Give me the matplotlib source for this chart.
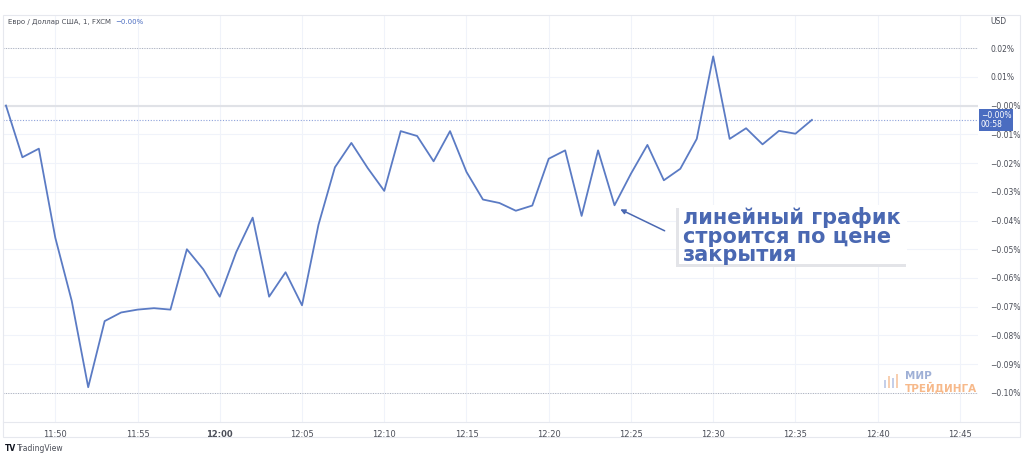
import numpy as np
import matplotlib.pyplot as plt
from matplotlib.patches import Rectangle

# close price change, % (one point per minute from 11:47)
start_time = "11:47"
closes = [0.000, -0.018, -0.015, -0.046, -0.068, -0.098, -0.075, -0.072, -0.071, -0.0705,
          -0.071, -0.050, -0.057, -0.0665, -0.051, -0.039, -0.0665, -0.058, -0.0695, -0.0415,
          -0.0215, -0.013, -0.0218, -0.0297, -0.0089, -0.0106, -0.0194, -0.0089, -0.0231, -0.0327,
          -0.0339, -0.0366, -0.0348, -0.0185, -0.0156, -0.0384, -0.0156, -0.0347, -0.0237, -0.0137,
          -0.026, -0.022, -0.0116, 0.0171, -0.0116, -0.0079, -0.0135, -0.0088, -0.0098, -0.005]
time_labels = ["11:50", "11:55", "12:00", "12:05", "12:10", "12:15",
               "12:20", "12:25", "12:30", "12:35", "12:40", "12:45"]
price_ticks = [0.02, 0.01, 0.0, -0.01, -0.02, -0.03, -0.04, -0.05, -0.06, -0.07, -0.08, -0.09, -0.10]
price_labels = ["0.02%", "0.01%", "\u22120.00%", "\u22120.01%", "\u22120.02%", "\u22120.03%", "\u22120.04%",
                "\u22120.05%", "\u22120.06%", "\u22120.07%", "\u22120.08%", "\u22120.09%", "\u22120.10%"]
range_lines = [0.02, -0.10]
last_label = "\u22120.00%"
countdown = "00:58"
title = "Евро / Доллар США, 1, FXCM"
note = "линейный график\nстроится по цене\nзакрытия"

def minutes(s):
    h, m = s.split(":")
    return int(h) * 60 + int(m)

t0 = minutes(start_time)
tick_pos = [minutes(s) - t0 for s in time_labels]
x = np.arange(len(closes))

line_col = "#5b7bc4"
grid_col = "#f0f3fa"

W, H = 1024, 473
fig = plt.figure(figsize=(W / 100, H / 100), dpi=100)
fig.patch.set_facecolor("white")

def fx(px):
    return px / W

def fy(py):
    return 1 - py / H

ax = fig.add_axes([fx(3), fy(422), fx(978 - 3), fy(15) - fy(422)])
ax.plot(x, closes, color=line_col, lw=1.3, zorder=3)
ax.set_xlim(-0.18, 59.1)
ax.set_ylim(-0.1101, 0.0315)

ax.set_xticks(tick_pos)
ax.set_xticklabels(time_labels, fontsize=6, color="#4a4d57")
for lbl in ax.get_xticklabels():
    if lbl.get_text().endswith(":00"):
        lbl.set_fontweight("bold")
ax.tick_params(axis="x", length=0, pad=6)
ax.set_yticks(price_ticks)
ax.set_yticklabels(price_labels, fontsize=5.5, color="#4a4d57")
ax.yaxis.tick_right()
ax.tick_params(axis="y", length=0, pad=9)
ax.grid(True, color=grid_col, lw=0.8)
ax.set_axisbelow(True)
for s in ax.spines.values():
    s.set_visible(False)

# reference lines
ax.axhline(0.0, color="#e0e2e7", lw=1.5, zorder=2)
for v in range_lines:
    ax.axhline(v, color="#a9adb7", lw=0.7, ls=(0, (1, 1.5)), zorder=2)
ax.axhline(closes[-1], color="#8ea2da", lw=0.8, ls=(0, (1, 1.5)), zorder=2)

# chart frame
frame = Rectangle((fx(3), fy(437)), fx(1020 - 3), fy(15) - fy(437), transform=fig.transFigure,
                  fill=False, ec="#e6e8ee", lw=0.8)
fig.patches.append(frame)
fig.add_artist(plt.Line2D([fx(3), fx(1020)], [fy(422), fy(422)], transform=fig.transFigure,
                          color="#e6e8ee", lw=0.8))

# header texts
t = fig.text(fx(8), fy(22), title, fontsize=5, color="#4a4d57", va="center")
fig.text(fx(990), fy(22), "USD", fontsize=5.5, color="#4a4d57", va="center")
fig.canvas.draw()
fig.text(t.get_window_extent().x1 / W + fx(4), fy(22), last_label, fontsize=5,
         color="#4a6cc0", va="center")

# last price badge
ax.annotate(last_label + "\n" + countdown, xy=(1, closes[-1]), xycoords=("axes fraction", "data"),
            xytext=(2, 0), textcoords="offset points", fontsize=5.5, color="white",
            va="center", ha="left", linespacing=1.0,
            bbox=dict(boxstyle="square,pad=0.25", fc="#4a6cc0", ec="none"), annotation_clip=False)

# note box with shadow
shadow = Rectangle((fx(676), fy(267)), fx(230), fy(205) - fy(264), transform=fig.transFigure,
                   fc="#e3e4e8", ec="none", zorder=4)
box = Rectangle((fx(679), fy(264)), fx(228), fy(205) - fy(264), transform=fig.transFigure,
                fc="white", ec="none", zorder=5)
fig.patches.extend([shadow, box])
fig.text(fx(683), fy(236), note, fontsize=15, fontweight="bold", color="#4a68b2",
         va="center", ha="left", linespacing=0.92, zorder=6, family="DejaVu Sans")

ax.annotate("", xy=(37.2, -0.0357), xytext=(40.2, -0.044),
            arrowprops=dict(arrowstyle="-|>", color="#4a68b2", lw=1.1, mutation_scale=7),
            zorder=6, annotation_clip=False)

# watermark
fig.text(fx(905), fy(376), "МИР", fontsize=7.5, fontweight="bold", color="#9fb0d6", va="center")
fig.text(fx(905), fy(387), "ТРЕЙДИНГА", fontsize=7.5, fontweight="bold", color="#f7b98a", va="center")
for i, hgt in enumerate([8, 12, 10, 14]):
    fig.patches.append(Rectangle((fx(884 + i * 4), fy(388)), fx(1.5), fy(388 - hgt) - fy(388),
                                 transform=fig.transFigure,
                                 fc="#f7c49c" if i % 2 else "#b7c4e4", ec="none", alpha=0.8))

# footer
fig.text(fx(5), fy(448), "TV", fontsize=5.5, fontweight="bold", color="#131722", va="center")
fig.text(fx(17), fy(448), "TradingView", fontsize=5.5, color="#4a4d57", va="center")

fig.savefig("out.png", dpi=100)
